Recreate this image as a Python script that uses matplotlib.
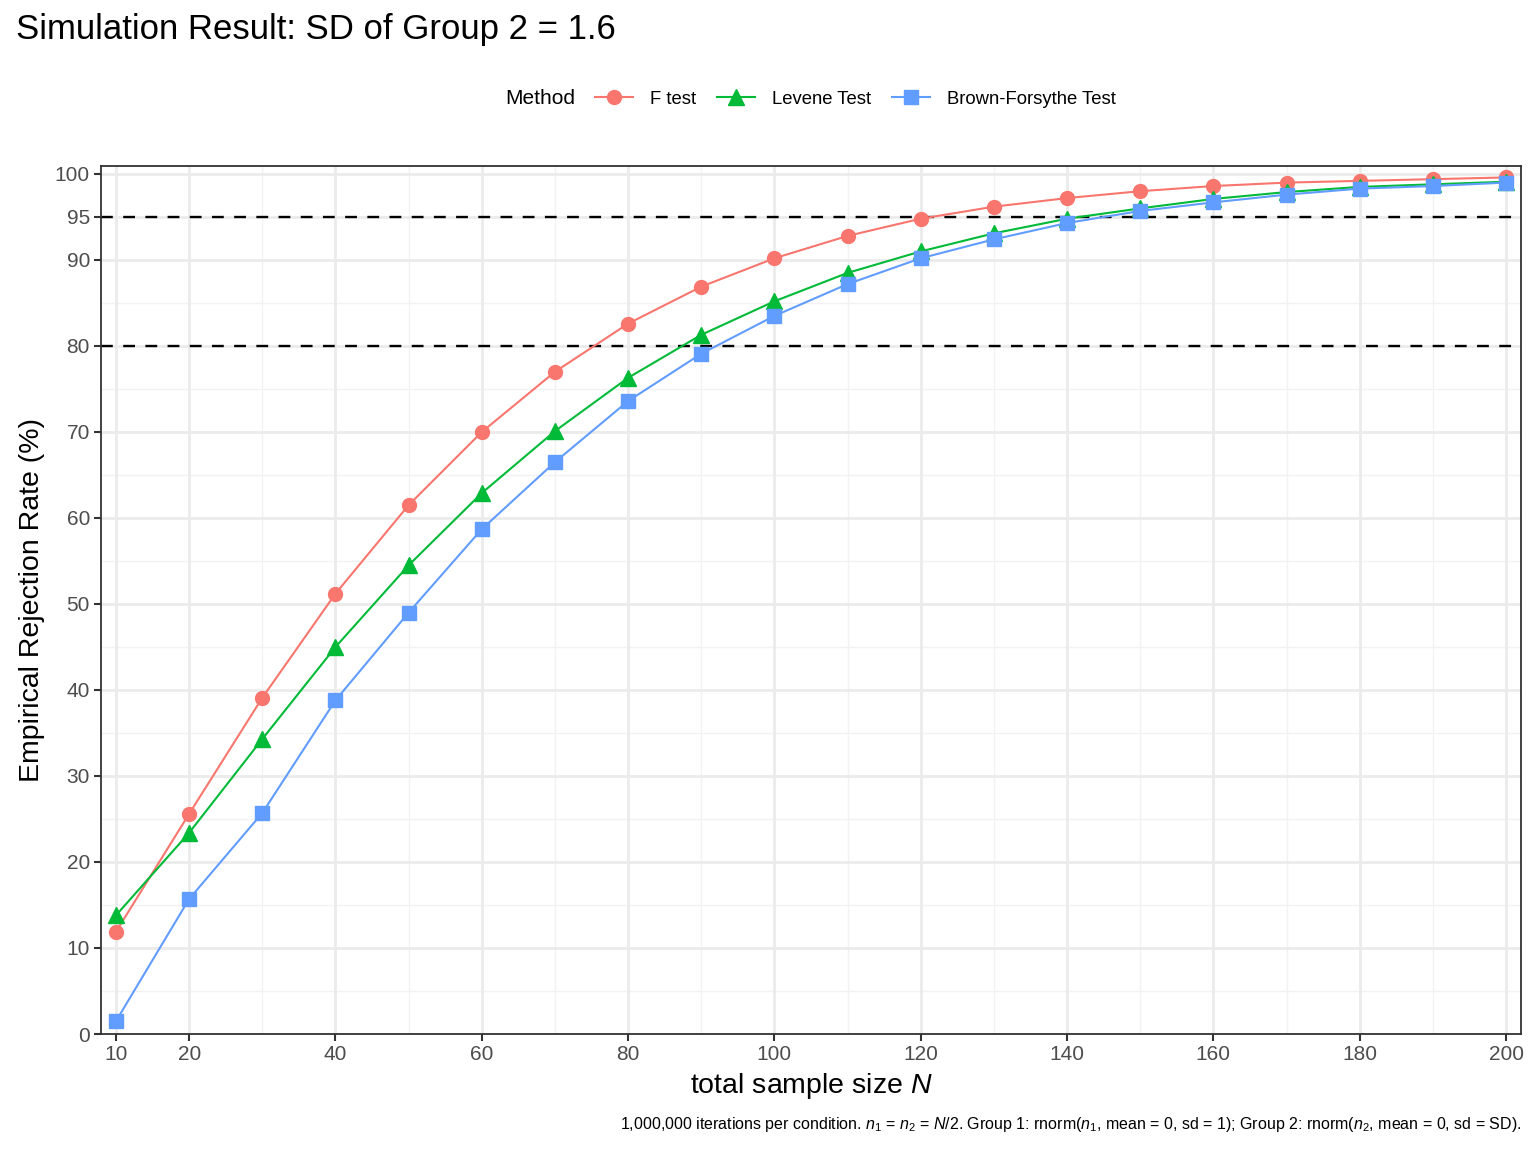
import matplotlib
matplotlib.use("Agg")
import matplotlib.pyplot as plt
from matplotlib.lines import Line2D

plt.rcParams['font.family'] = ['Liberation Sans', 'DejaVu Sans']
plt.rcParams['mathtext.fontset'] = 'custom'
plt.rcParams['mathtext.rm'] = 'Liberation Sans'
plt.rcParams['mathtext.it'] = 'Liberation Sans:italic'

# Daten
n_total = [10, 20, 30, 40, 50, 60, 70, 80, 90, 100,
           110, 120, 130, 140, 150, 160, 170, 180, 190, 200]
f_test = [11.9, 25.6, 39.1, 51.2, 61.5, 70.0, 77.0, 82.6, 86.9, 90.2,
          92.8, 94.8, 96.2, 97.2, 98.0, 98.6, 99.0, 99.2, 99.4, 99.6]
levene = [13.8, 23.4, 34.3, 45.0, 54.5, 62.9, 70.1, 76.3, 81.3, 85.2,
          88.5, 91.0, 93.1, 94.8, 96.0, 97.1, 97.9, 98.5, 98.8, 99.1]
brown_forsythe = [1.5, 15.7, 25.7, 38.8, 49.0, 58.7, 66.5, 73.6, 79.1, 83.5,
                  87.2, 90.2, 92.4, 94.3, 95.7, 96.7, 97.6, 98.3, 98.6, 99.0]
methods = ["F test", "Levene Test", "Brown-Forsythe Test"]
colors = ["#F8766D", "#00BA38", "#619CFF"]
markers = ["o", "^", "s"]
msizes = [10, 11.5, 9.5]

x_ticks = [10, 20, 40, 60, 80, 100, 120, 140, 160, 180, 200]
x_minor = [30, 50, 70, 90, 110, 130, 150, 170, 190]
y_ticks = [0, 10, 20, 30, 40, 50, 60, 70, 80, 90, 95, 100]
y_minor = [5, 15, 25, 35, 45, 55, 65, 75, 85]
ref_lines = [80, 95]

fig = plt.figure(figsize=(15.36, 11.52), dpi=100)
ax = fig.add_axes([101 / 1536, 1 - 1034 / 1152, 1420 / 1536, 868 / 1152])

# Gitter
for v in x_minor:
    ax.axvline(v, color="#F2F2F2", lw=1.0, zorder=0)
for v in y_minor:
    ax.axhline(v, color="#F2F2F2", lw=1.0, zorder=0)
for v in x_ticks:
    ax.axvline(v, color="#EBEBEB", lw=2.0, zorder=0)
for v in y_ticks:
    ax.axhline(v, color="#EBEBEB", lw=2.0, zorder=0)

for v in ref_lines:
    ax.axhline(v, color="black", lw=1.7, ls=(0, (5, 4.4)), zorder=1)

series = [f_test, levene, brown_forsythe]
for vals, lab, c, m, ms in zip(series, methods, colors, markers, msizes):
    ax.plot(n_total, vals, color=c, lw=1.5, marker=m, ms=ms, mec=c,
            label=lab, zorder=3)

ax.set_xlim(7.95, 202.05)
ax.set_ylim(0, 100.93)
ax.set_xticks(x_ticks)
ax.set_yticks(y_ticks)
ax.tick_params(axis="both", labelsize=15, colors="#333333", labelcolor="#4D4D4D",
               length=5, width=1.5, pad=3)
for s in ax.spines.values():
    s.set_color("#333333")
    s.set_linewidth(1.3)

ax.set_xlabel("total sample size $N$", fontsize=20.5, labelpad=5)
ax.set_ylabel("Empirical Rejection Rate (%)", fontsize=20.5, labelpad=7)

fig.text(16 / 1536, 1 - 30 / 1152, "Simulation Result: SD of Group 2 = 1.6",
         fontsize=25, ha="left", va="center")

# Legende oben
fig.text(505 / 1536, 1 - 99 / 1152, "Method", fontsize=15, ha="left", va="center")
handles = [Line2D([], [], color=c, lw=1.5, marker=m, ms=ms, mec=c)
           for c, m, ms in zip(colors, markers, msizes)]
fig.legend(handles, methods, loc="center left",
           bbox_to_anchor=(595 / 1536, 1 - 99 / 1152), ncol=3, frameon=False,
           fontsize=13.3, handlelength=2.05, handletextpad=0.95, columnspacing=1.1,
           borderaxespad=0, borderpad=0)

cap = ("1,000,000 iterations per condition. $n_1$ = $n_2$ = $N$/2. "
       "Group 1: rnorm($n_1$, mean = 0, sd = 1); Group 2: rnorm($n_2$, mean = 0, sd = SD).")
fig.text(1521 / 1536, 1 - 1125 / 1152, cap, fontsize=11.5, ha="right", va="center")

fig.savefig("out.png", dpi=100)
